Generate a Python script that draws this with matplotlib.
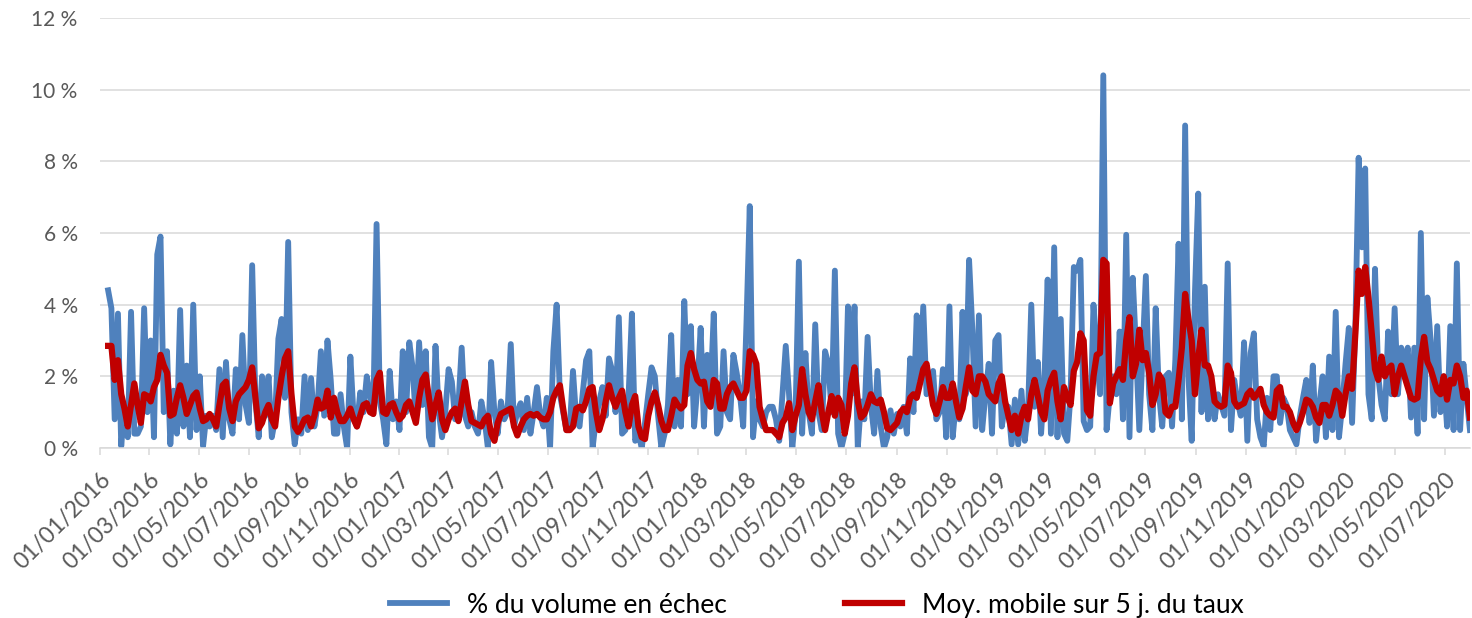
import matplotlib
matplotlib.use('Agg')
import matplotlib.pyplot as plt
import matplotlib.dates as mdates
from matplotlib.ticker import FuncFormatter
import pandas as pd

plt.rcParams['font.family'] = ['Lato', 'DejaVu Sans']

# % du volume en échec (one reading every 4 days, from 11/01/2016)
taux = [
    4.4, 3.9, 0.8, 3.75, 0.05, 1.2, 0.3, 3.8, 0.4, 0.4,
    0.6, 3.9, 1.0, 3.0, 0.3, 5.4, 5.9, 1.0, 2.7, 0.1,
    1.6, 0.4, 3.85, 0.6, 2.3, 0.3, 4.0, 0.5, 2.0, 0.05,
    0.9, 0.6, 0.9, 0.5, 2.2, 0.3, 2.4, 0.8, 0.4, 2.2,
    0.8, 3.15, 1.2, 0.7, 5.1, 1.3, 0.3, 2.0, 0.9, 2.0,
    0.3, 0.8, 3.05, 3.6, 1.4, 5.75, 1.0, 0.1, 0.8, 0.4,
    2.0, 0.5, 1.95, 0.6, 1.2, 2.7, 0.9, 3.0, 1.9, 0.4,
    0.4, 1.5, 0.6, 0.0, 2.55, 0.85, 0.6, 1.55, 1.0, 2.0,
    1.5, 0.95, 6.25, 1.3, 0.8, 0.1, 2.15, 0.8, 1.3, 0.5,
    2.7, 1.0, 2.95, 2.25, 0.8, 2.95, 1.2, 2.7, 0.3, 0.0,
    2.85, 1.0, 0.3, 1.0, 2.2, 1.85, 0.8, 1.2, 2.8, 0.9,
    0.6, 1.0, 0.6, 0.4, 1.3, 0.8, 0.0, 2.4, 1.0, 0.4,
    1.3, 0.8, 1.0, 2.9, 0.6, 1.0, 1.25, 0.5, 1.4, 0.4,
    1.0, 1.7, 0.9, 0.6, 1.4, 0.0, 2.7, 4.0, 1.5, 1.0,
    0.5, 0.5, 2.15, 0.8, 0.6, 1.55, 2.45, 2.7, 0.0, 0.8,
    1.3, 1.7, 0.9, 2.5, 2.15, 1.0, 3.65, 0.4, 0.5, 1.5,
    3.75, 0.2, 0.4, 0.0, 0.7, 1.5, 2.25, 2.0, 0.9, 0.0,
    0.4, 1.2, 3.15, 0.6, 1.9, 0.6, 4.1, 1.5, 3.4, 0.6,
    1.7, 3.35, 0.6, 2.6, 1.5, 3.75, 0.4, 0.6, 2.7, 1.0,
    0.8, 2.6, 2.1, 1.5, 0.6, 3.5, 6.75, 0.3, 1.3, 0.8,
    0.6, 1.0, 1.15, 1.15, 0.8, 0.2, 1.5, 2.85, 1.5, 0.0,
    1.0, 5.2, 0.4, 2.65, 1.0, 0.4, 3.45, 1.0, 0.5, 2.7,
    2.35, 1.0, 4.95, 0.4, 0.0, 0.4, 3.95, 1.5, 3.95, 0.0,
    1.3, 0.8, 3.1, 1.2, 0.4, 2.15, 0.6, 0.0, 0.3, 1.05,
    0.4, 0.95, 0.6, 1.15, 0.4, 2.5, 1.0, 3.7, 1.9, 3.95,
    1.5, 1.7, 2.15, 0.8, 1.0, 2.2, 0.3, 3.95, 0.3, 1.3,
    0.8, 3.8, 1.5, 5.25, 3.3, 0.6, 3.7, 0.5, 1.5, 2.35,
    0.4, 3.0, 3.15, 0.6, 1.2, 1.15, 0.1, 1.35, 0.1, 1.6,
    0.2, 1.0, 4.0, 1.15, 2.4, 0.4, 1.9, 4.7, 0.4, 5.6,
    0.3, 3.6, 0.4, 0.2, 1.5, 5.05, 4.95, 5.25, 0.75, 0.5,
    0.6, 4.0, 2.65, 1.5, 10.4, 0.5, 1.5, 2.0, 1.5, 3.25,
    0.8, 5.95, 0.3, 4.75, 2.75, 0.5, 2.65, 4.8, 1.5, 0.5,
    3.9, 1.5, 0.6, 2.0, 2.1, 0.6, 2.45, 5.7, 0.8, 9.0,
    2.0, 0.2, 4.35, 7.1, 1.0, 4.5, 0.8, 1.7, 0.8, 1.5,
    1.2, 0.9, 5.15, 0.5, 1.9, 1.3, 0.9, 2.95, 0.2, 2.65,
    3.2, 0.8, 0.3, 0.05, 1.4, 0.5, 2.0, 2.0, 0.7, 1.4,
    1.2, 0.5, 0.3, 0.1, 0.85, 1.4, 1.9, 0.7, 2.3, 0.2,
    1.2, 2.0, 0.3, 2.55, 0.5, 3.8, 0.3, 1.2, 2.35, 3.35,
    0.7, 3.4, 8.1, 5.6, 7.8, 1.5, 0.8, 5.0, 2.0, 1.2,
    0.8, 3.25, 1.5, 3.9, 1.5, 2.8, 2.2, 2.8, 0.85, 2.8,
    0.4, 6.0, 0.8, 4.2, 3.0, 0.9, 3.4, 1.0, 2.0, 0.6,
    3.4, 0.5, 5.15, 0.5, 2.35, 1.4, 0.5,
]

# Moy. mobile sur 5 j. du taux (same dates)
moy_mobile = [
    2.85, 2.85, 1.9, 2.45, 1.5, 1.1, 0.6, 1.2, 1.8, 1.2,
    0.7, 1.5, 1.45, 1.3, 1.7, 1.9, 2.6, 2.3, 2.1, 0.9,
    0.95, 1.4, 1.75, 1.4, 0.95, 1.2, 1.45, 1.55, 1.1, 0.75,
    0.8, 0.95, 0.8, 0.6, 1.2, 1.75, 1.85, 1.1, 0.75, 1.3,
    1.5, 1.6, 1.7, 1.9, 2.25, 1.4, 0.55, 0.7, 1.0, 1.2,
    0.8, 0.6, 1.4, 2.0, 2.5, 2.7, 1.5, 0.6, 0.45, 0.6,
    0.8, 0.85, 0.6, 0.9, 1.35, 1.1, 1.15, 1.6, 0.85, 1.4,
    1.0, 0.75, 0.75, 0.9, 1.1, 0.8, 0.6, 0.9, 1.2, 1.25,
    1.0, 0.95, 1.9, 2.1, 1.0, 0.95, 1.2, 1.25, 1.0, 0.8,
    0.9, 1.2, 1.3, 1.0, 0.7, 1.4, 1.9, 2.05, 1.4, 0.8,
    1.2, 1.55, 0.8, 0.5, 0.8, 1.0, 1.1, 0.75, 1.3, 1.85,
    1.2, 0.75, 0.7, 0.65, 0.6, 0.8, 0.9, 0.4, 0.2, 0.7,
    0.95, 1.0, 1.05, 1.1, 0.6, 0.35, 0.6, 0.8, 0.9, 0.95,
    0.9, 0.95, 0.85, 0.8, 0.8, 1.0, 1.4, 1.6, 1.75, 1.1,
    0.5, 0.5, 0.6, 1.1, 1.15, 1.05, 1.3, 1.65, 1.7, 1.0,
    0.5, 0.8, 1.3, 1.75, 1.4, 1.15, 1.4, 1.6, 1.0, 0.6,
    1.2, 1.45, 0.6, 0.3, 0.25, 0.9, 1.3, 1.55, 1.2, 0.75,
    0.5, 0.5, 0.9, 1.35, 1.2, 1.1, 1.2, 2.3, 2.65, 2.2,
    1.9, 1.8, 1.85, 1.3, 1.15, 1.9, 1.8, 1.1, 1.1, 1.5,
    1.7, 1.8, 1.6, 1.4, 1.4, 1.6, 2.7, 2.6, 2.35, 1.15,
    0.8, 0.5, 0.5, 0.5, 0.4, 0.3, 0.7, 0.85, 1.25, 0.5,
    0.9, 1.2, 2.2, 1.5, 1.0, 0.8, 1.3, 1.75, 1.0, 0.5,
    1.0, 1.45, 0.9, 1.4, 1.2, 0.4, 0.9, 1.8, 2.25, 1.3,
    0.85, 0.95, 1.2, 1.5, 1.3, 1.25, 1.35, 1.0, 0.55, 0.5,
    0.6, 0.7, 1.0, 1.1, 1.0, 1.4, 1.5, 1.4, 1.8, 2.2,
    2.35, 1.75, 1.2, 0.95, 1.3, 1.7, 1.4, 1.4, 1.8, 1.3,
    0.85, 1.1, 1.7, 2.25, 1.6, 1.5, 2.0, 2.0, 1.85, 1.5,
    1.4, 1.3, 1.8, 2.0, 1.3, 0.9, 0.5, 0.9, 0.4, 0.9,
    1.15, 0.8, 1.5, 1.9, 1.45, 1.0, 0.8, 1.6, 1.9, 2.1,
    1.3, 0.8, 1.7, 1.4, 1.2, 2.15, 2.4, 3.2, 3.0, 1.05,
    0.9, 2.0, 2.6, 2.65, 5.25, 5.15, 1.25, 1.8, 2.0, 2.2,
    1.9, 3.0, 3.65, 2.0, 2.35, 3.3, 2.45, 2.65, 2.1, 1.2,
    1.5, 2.05, 1.9, 1.0, 0.9, 1.15, 1.15, 1.9, 2.8, 4.3,
    3.6, 3.0, 1.5, 2.5, 3.3, 2.3, 2.3, 2.0, 1.3, 1.2,
    1.15, 1.2, 2.3, 2.1, 1.3, 1.15, 1.2, 1.25, 1.5, 1.6,
    1.4, 1.5, 1.65, 1.2, 1.0, 0.9, 0.85, 1.6, 1.7, 1.15,
    1.15, 1.0, 0.7, 0.5, 0.7, 1.0, 1.35, 1.3, 1.15, 0.85,
    0.7, 1.2, 1.2, 0.9, 1.2, 1.6, 1.5, 0.9, 1.5, 2.0,
    1.65, 3.2, 4.95, 4.3, 5.05, 4.2, 3.2, 2.2, 1.9, 2.55,
    2.0, 2.2, 2.3, 1.5, 2.0, 2.3, 2.0, 1.7, 1.4, 1.35,
    1.4, 2.5, 3.1, 2.4, 2.2, 1.9, 1.6, 1.5, 2.0, 1.35,
    1.9, 1.8, 2.3, 2.0, 1.4, 1.6, 0.85,
]

dates = pd.date_range('2016-01-11', periods=len(taux), freq='4D')

fig = plt.figure(figsize=(14.72, 6.18), dpi=100)
ax = fig.add_axes([0.0679, 0.2751, 0.9307, 0.6958])

l1, = ax.plot(dates, taux, color='#4F81BD', lw=4.2, solid_joinstyle='round',
              label='% du volume en échec')
l2, = ax.plot(dates, moy_mobile, color='#C00000', lw=4.5, solid_joinstyle='round',
              label='Moy. mobile sur 5 j. du taux')

ax.set_ylim(0, 12)
ax.set_yticks(range(0, 13, 2))
ax.yaxis.set_major_formatter(FuncFormatter(lambda v, p: '%d %%' % v))
ax.set_xlim(pd.Timestamp('2016-01-01'), dates[-1])
ax.xaxis.set_major_locator(mdates.MonthLocator(bymonth=[1, 3, 5, 7, 9, 11]))
ax.xaxis.set_major_formatter(mdates.DateFormatter('%d/%m/%Y'))

ax.grid(axis='y', color='#D9D9D9', lw=1.1)
ax.set_axisbelow(True)
for s in ['top', 'right', 'left']:
    ax.spines[s].set_visible(False)
ax.spines['bottom'].set_color('#D9D9D9')
ax.spines['bottom'].set_linewidth(1.1)
ax.tick_params(axis='y', length=0, labelsize=15, labelcolor='#595959', pad=16)
ax.tick_params(axis='x', length=5, width=1.1, color='#D9D9D9', labelsize=16.5,
               labelcolor='#595959', pad=10)
for lab in ax.get_xticklabels():
    lab.set_rotation(45)
    lab.set_ha('right')
    lab.set_rotation_mode('anchor')

fig.legend(handles=[l1, l2], loc='center', bbox_to_anchor=(0.555, 0.021), ncol=2,
           frameon=False, fontsize=19, handlelength=2.15, handletextpad=0.76,
           columnspacing=4.47)

fig.savefig('out.png', dpi=100)
